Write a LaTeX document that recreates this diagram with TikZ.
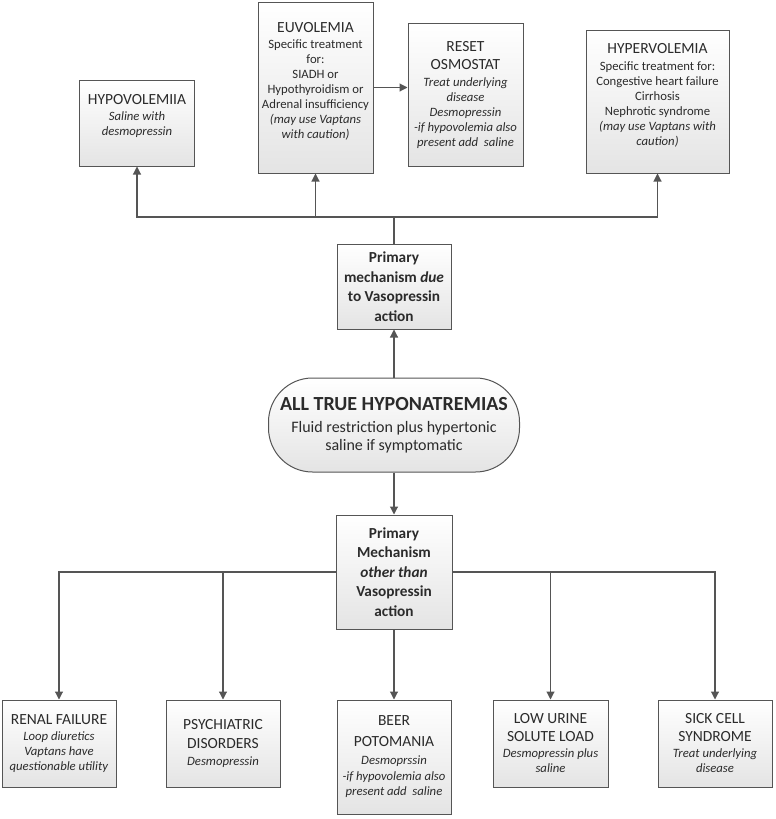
\documentclass[tikz,border=0pt]{standalone}
\usepackage{fontspec}
\setmainfont{Carlito}
\usepackage{tikz}
\usetikzlibrary{arrows.meta, positioning}
\definecolor{BoxEdge}{HTML}{555555}
\definecolor{BoxFill}{HTML}{E4E4E4}
\definecolor{InkGray}{HTML}{2B2B2B}
\tikzset{
  % Box styles
  treatbox/.style={rectangle, draw=BoxEdge, line width=1pt, top color=white, bottom color=BoxFill, minimum width=115pt, inner xsep=1pt, align=center, text=InkGray, font=\fontsize{12.7}{15}\selectfont},
  mechbox/.style={treatbox, font=\bfseries\fontsize{15.3}{19.5}\selectfont},
  pillbox/.style={rectangle, rounded corners=44pt, draw=BoxEdge, line width=1pt, top color=white, bottom color=BoxFill, minimum width=251pt, minimum height=94pt, align=center, text=InkGray, font=\fontsize{16}{17.5}\selectfont},
  % Arrow styles
  arrow/.style={-{Triangle[width=8pt,length=8pt]}, line width=1.1pt, BoxEdge},
  line/.style={line width=1.1pt, BoxEdge}
}
\newcommand{\boxhead}[1]{{\fontsize{15.5}{18.5}\selectfont #1}}
\newcommand{\boxnote}[1]{\textit{#1}}

\begin{document}
\begin{tikzpicture}[x=1pt, y=-1pt]
  \useasboundingbox (0,0) rectangle (776,819);

  % Vasopressin side, top row
  \node[treatbox, minimum height=86pt] (hypo) at (137,123)
    {\boxhead{HYPOVOLEMIIA}\\[1pt] \boxnote{Saline with}\\ \boxnote{desmopressin}\\[2pt]};
  \node[treatbox, minimum height=171pt] (euvo) at (315.5,87.5)
    {\boxhead{EUVOLEMIA}\\[1pt] Specific treatment\\ for:\\ SIADH or\\ Hypothyroidism or\\ Adrenal insufficiency\\ \boxnote{(may use Vaptans}\\ \boxnote{with caution)}\\[0pt]};
  \node[treatbox, minimum height=143pt] (reset) at (465.5,94.5)
    {\boxhead{RESET}\\[3pt] \boxhead{OSMOSTAT}\\[2pt] \boxnote{Treat underlying}\\ \boxnote{disease}\\ \boxnote{Desmopressin}\\ \boxnote{-if hypovolemia also}\\ \boxnote{present add\ \ saline}};
  \node[treatbox, minimum width=143pt, minimum height=143pt] (hyper) at (657.5,101.5)
    {\boxhead{HYPERVOLEMIA}\\[2pt] Specific treatment for:\\ Congestive heart failure\\ Cirrhosis\\ Nephrotic syndrome\\ \boxnote{(may use Vaptans with}\\ \boxnote{caution)}\\[0pt]};

  % Middle column
  \node[mechbox, minimum width=114pt, minimum height=85pt] (due) at (394,286.5)
    {Primary\\ mechanism \textit{due}\\ to Vasopressin\\ action};
  \node[pillbox] (pill) at (394,425)
    {{\bfseries\fontsize{20}{24}\selectfont ALL TRUE HYPONATREMIAS}\\[5pt]
     Fluid restriction plus hypertonic\\
     saline if symptomatic};
  \node[mechbox, minimum width=116pt, minimum height=114pt] (other) at (394,572)
    {Primary\\ Mechanism\\ \textit{other than}\\ Vasopressin\\ action};

  % Other mechanisms, bottom row
  \node[treatbox, minimum width=114pt, minimum height=87pt] (renal) at (59,743.5)
    {\boxhead{RENAL FAILURE}\\[1pt] \boxnote{Loop diuretics}\\ \boxnote{Vaptans have}\\ \boxnote{questionable utility}};
  \node[treatbox, minimum width=114pt, minimum height=87pt] (psych) at (223,743.5)
    {\boxhead{PSYCHIATRIC}\\[4pt] \boxhead{DISORDERS}\\[2pt] \boxnote{Desmopressin}};
  \node[treatbox, minimum width=114pt, minimum height=114pt] (beer) at (394,757)
    {\boxhead{BEER}\\[6pt] \boxhead{POTOMANIA}\\[3pt] \boxnote{Desmoprssin}\\[1pt] \boxnote{-if hypovolemia also}\\ \boxnote{present add\ \ saline}};
  \node[treatbox, minimum height=87pt] (lowsol) at (550.5,743.5)
    {\boxhead{LOW URINE}\\[3pt] \boxhead{SOLUTE LOAD}\\[1pt] \boxnote{Desmopressin plus}\\ \boxnote{saline}};
  \node[treatbox, minimum width=114pt, minimum height=87pt] (sick) at (715,743.5)
    {\boxhead{SICK CELL}\\[3pt] \boxhead{SYNDROME}\\[1pt] \boxnote{Treat underlying}\\ \boxnote{disease}};

  % Connectors
  \coordinate (topbus) at (394,217);
  \draw[line] (due.north) -- (topbus);
  \draw[arrow] (topbus) -| (hypo.south);
  \draw[arrow] (topbus) -| (euvo.south);
  \draw[arrow] (topbus) -| (hyper.south);
  \draw[arrow] (euvo.east) -- (euvo.east -| reset.west);
  \draw[arrow] (pill.north) -- (due.south);
  \draw[arrow] (pill.south) -- (other.north);
  \draw[arrow] (other.west) -| (renal.north);
  \draw[arrow] (other.west) -| (psych.north);
  \draw[arrow] (other.south) -- (beer.north);
  \draw[arrow] (other.east) -| (lowsol.north);
  \draw[arrow] (other.east) -| (sick.north);
\end{tikzpicture}
\end{document}
